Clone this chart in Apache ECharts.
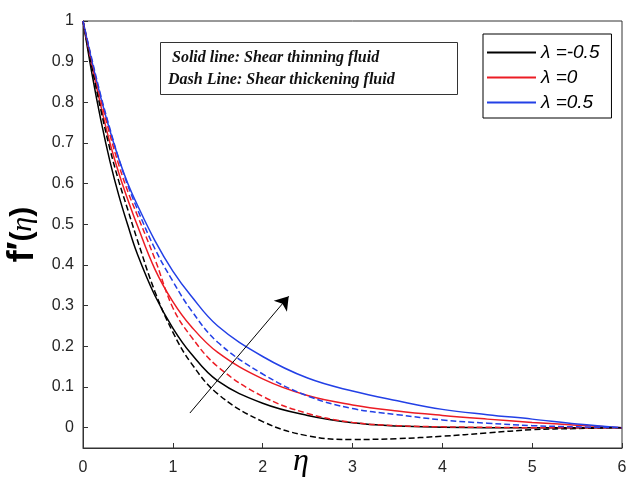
<!DOCTYPE html>
<html>
<head>
<meta charset="utf-8">
<script src="https://cdn.jsdelivr.net/npm/echarts@6/dist/echarts.min.js"></script>
<style>
  html, body { margin: 0; padding: 0; background: #fff; }
  #chart { width: 640px; height: 490px; }
</style>
</head>
<body>
<div id="chart"></div>
<script>
// eta grid and curves
var eta = [0, 0.1, 0.2, 0.3, 0.4, 0.5, 0.6, 0.8, 1.0, 1.2, 1.5, 2, 2.5, 3, 3.5, 4, 4.5, 5, 5.5, 6];

// solid lines: shear thinning fluid
var thinM05  = [1, 0.87, 0.755, 0.655, 0.57, 0.497, 0.43, 0.325, 0.245, 0.183, 0.115, 0.06, 0.03, 0.012, 0.004, 0.001, 0, 0, 0, 0];
var thinZero = [1, 0.89, 0.79, 0.70, 0.625, 0.56, 0.50, 0.39, 0.31, 0.25, 0.185, 0.12, 0.079, 0.056, 0.041, 0.03, 0.021, 0.013, 0.006, 0];
var thinP05  = [1, 0.90, 0.81, 0.73, 0.66, 0.60, 0.55, 0.46, 0.385, 0.325, 0.25, 0.175, 0.122, 0.09, 0.066, 0.045, 0.032, 0.021, 0.009, 0];

// dashed lines: shear thickening fluid
var thickM05  = [1, 0.885, 0.78, 0.685, 0.605, 0.535, 0.465, 0.335, 0.235, 0.16, 0.083, 0.015, -0.02, -0.029, -0.027, -0.021, -0.013, -0.005, -0.002, 0];
var thickZero = [1, 0.90, 0.805, 0.72, 0.645, 0.58, 0.525, 0.415, 0.295, 0.225, 0.15, 0.077, 0.035, 0.013, 0.005, 0.002, 0.001, 0, 0, 0];
var thickP05  = [1, 0.905, 0.815, 0.735, 0.66, 0.595, 0.54, 0.44, 0.36, 0.29, 0.21, 0.132, 0.078, 0.047, 0.032, 0.019, 0.011, 0.005, 0.002, 0];

var legendNames = ['λ =-0.5', 'λ =0', 'λ =0.5'];
var yTicks = [0, 0.1, 0.2, 0.3, 0.4, 0.5, 0.6, 0.7, 0.8, 0.9, 1];
var arrowFrom = [1.19, 0.036];
var arrowTo = [2.29, 0.323];

var colors = ['#000000', '#ec1c24', '#2340e6'];

function pairs(ys) {
  return eta.map(function (x, i) { return [x, ys[i]]; });
}

var chart = echarts.init(document.getElementById('chart'));

var axisCol = '#333';

function lineSeries(name, ys, color, dashed) {
  return {
    name: name,
    type: 'line',
    data: pairs(ys),
    symbol: 'none',
    smooth: 0.4,
    lineStyle: { color: color, width: 1.5, type: dashed ? 'dashed' : 'solid' },
    itemStyle: { color: color }
  };
}

var series = [
  lineSeries(legendNames[0], thinM05, colors[0], false),
  lineSeries(legendNames[1], thinZero, colors[1], false),
  lineSeries(legendNames[2], thinP05, colors[2], false),
  lineSeries('thick-0.5', thickM05, colors[0], true),
  lineSeries('thick0', thickZero, colors[1], true),
  lineSeries('thick0.5', thickP05, colors[2], true)
];

// arrow showing increasing lambda
series[0].markLine = {
  silent: true,
  symbol: ['none', 'arrow'],
  symbolSize: 13,
  label: { show: false },
  lineStyle: { color: '#000', width: 1, type: 'solid' },
  data: [[{ coord: arrowFrom }, { coord: arrowTo }]]
};

var option = {
  animation: false,
  // the box around the plot comes from the grid border
  grid: { left: 83, right: 18, top: 21, bottom: 42, outerBoundsMode: 'none', show: true, borderColor: axisCol, borderWidth: 1 },
  legend: {
    data: legendNames,
    orient: 'vertical',
    left: 483,
    top: 34,
    icon: 'rect',
    backgroundColor: '#fff',
    borderColor: '#000',
    borderWidth: 1,
    borderRadius: 0,
    padding: [9, 12, 6, 4],
    itemWidth: 49,
    itemHeight: 2,
    itemGap: 6,
    textStyle: { fontFamily: 'Liberation Sans', fontStyle: 'italic', fontSize: 19, color: '#000' }
  },
  xAxis: {
    type: 'value',
    min: 0, max: 6, interval: 1,
    axisLine: { show: true, onZero: false, lineStyle: { color: axisCol, width: 1 } },
    axisTick: { show: true, inside: true, length: 5 },
    axisLabel: { margin: 12, color: '#262626', fontFamily: 'Liberation Sans', fontSize: 16 },
    splitLine: { show: false }
  },
  yAxis: {
    type: 'value',
    min: -0.05, max: 1,
    axisLine: { show: true, onZero: false, lineStyle: { color: axisCol, width: 1 } },
    axisTick: { show: true, inside: true, length: 5, customValues: yTicks },
    axisLabel: { margin: 9, customValues: yTicks, color: '#262626', fontFamily: 'Liberation Sans', fontSize: 16 },
    splitLine: { show: false },
    name: '{f|f′}{p|(}{e|η}{p|)}',
    nameLocation: 'middle',
    nameGap: 38,
    nameRotate: 90,
    nameTextStyle: {
      rich: {
        f: { fontFamily: 'Liberation Sans', fontWeight: 'bold', fontSize: 36, color: '#000' },
        p: { fontFamily: 'Liberation Sans', fontWeight: 'bold', fontSize: 30, color: '#000' },
        e: { fontFamily: 'Liberation Serif', fontStyle: 'italic', fontSize: 30, color: '#000' }
      }
    }
  },
  graphic: [{
    type: 'rect',
    left: 160, top: 42,
    shape: { width: 297, height: 52 },
    style: { fill: '#fff', stroke: '#333', lineWidth: 1 },
    z: 10
  }, {
    type: 'text',
    left: 172, top: 50,
    style: { text: 'Solid line: Shear thinning fluid', fontFamily: 'Liberation Serif', fontStyle: 'italic', fontWeight: 'bold', fontSize: 16, fill: '#111' },
    z: 11
  }, {
    type: 'text',
    left: 168, top: 72,
    style: { text: 'Dash Line: Shear thickening fluid', fontFamily: 'Liberation Serif', fontStyle: 'italic', fontWeight: 'bold', fontSize: 16, fill: '#111' },
    z: 11
  }, {
    type: 'text',
    left: 293, top: 446,
    style: { text: 'η', fontFamily: 'Liberation Serif', fontStyle: 'italic', fontSize: 32, fill: '#000' },
    z: 11
  }],
  series: series
};

chart.setOption(option);
</script>
</body>
</html>
